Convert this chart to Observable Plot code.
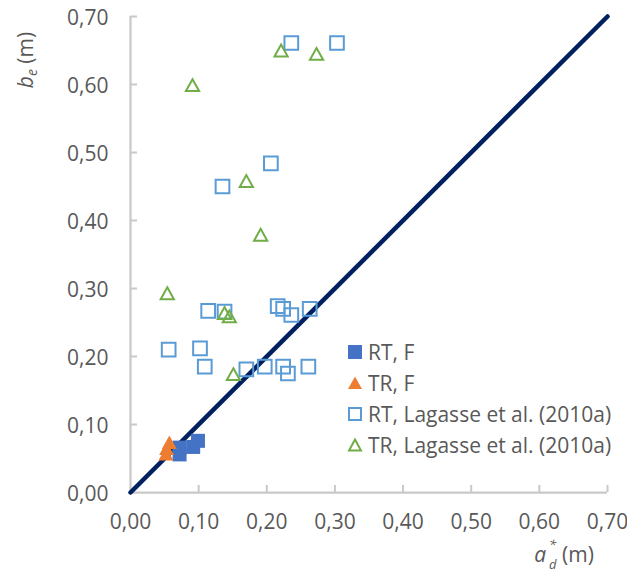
<!DOCTYPE html>
<html>
<head>
<meta charset="utf-8">
<script src="https://cdn.jsdelivr.net/npm/d3@7"></script>
<script src="https://cdn.jsdelivr.net/npm/@observablehq/plot@0.6"></script>
<style>
  html, body { margin: 0; padding: 0; background: #fff; }
  #wrap { position: relative; width: 627px; height: 571px; font-family: "Open Sans", sans-serif; color: #595959; }
  #wrap svg { display: block; }
  .lab { position: absolute; font-size: 21px; color: #595959; white-space: nowrap; line-height: 1; }
  #ylab { left: 27px; top: 60px; transform: translate(-50%, -50%) rotate(-90deg); }
  #xlab { left: 564px; top: 554px; transform: translate(-50%, -50%); }
  .ss { display: inline-block; position: relative; width: 11px; height: 10px; margin-left: 2px; margin-right: 3px; }
  .ss .sup, .ss .sub { position: absolute; left: 1px; font-size: 13px; font-style: italic; line-height: 1; }
  .ss .sup { top: -14px; }
  .ss .sub { top: 6px; }
  #legend { position: absolute; left: 347px; top: 336px; font-size: 21px; color: #595959; }
  .row { display: flex; align-items: center; height: 31.2px; }
  .row svg { margin-right: 5px; }
</style>
</head>
<body>
<div id="wrap"></div>
<script>
// ---- Data ----
const rtF_x = [0.072, 0.072, 0.092, 0.099];
const rtF_y = [0.066, 0.056, 0.067, 0.076];

const trF_x = [0.057, 0.053, 0.052];
const trF_y = [0.074, 0.065, 0.057];

const rtL_x = [0.236, 0.303, 0.206, 0.135, 0.114, 0.138, 0.056, 0.102, 0.109, 0.170, 0.197, 0.224, 0.231, 0.261, 0.216, 0.224, 0.236, 0.263];
const rtL_y = [0.661, 0.661, 0.484, 0.450, 0.267, 0.266, 0.210, 0.212, 0.185, 0.181, 0.185, 0.185, 0.175, 0.185, 0.274, 0.270, 0.261, 0.270];

const trL_x = [0.221, 0.273, 0.091, 0.170, 0.191, 0.054, 0.138, 0.145, 0.151];
const trL_y = [0.650, 0.645, 0.599, 0.458, 0.379, 0.293, 0.264, 0.259, 0.174];

const lineX = [0, 0.7];
const lineY = [0, 0.7];

const ticks = [0, 0.1, 0.2, 0.3, 0.4, 0.5, 0.6, 0.7];

const seriesNames = ["RT, F", "TR, F", "RT, Lagasse et al. (2010a)", "TR, Lagasse et al. (2010a)"];

// ---- Build ----
const zip = (xs, ys) => xs.map((x, i) => ({x, y: ys[i]}));
const fmt = d => d.toFixed(2).replace(".", ",");

const sq = {draw(ctx, size) { const s = Math.sqrt(size / Math.PI); ctx.moveTo(-s, -s); ctx.lineTo(s, -s); ctx.lineTo(s, s); ctx.lineTo(-s, s); ctx.closePath(); }};
const tri = {draw(ctx, size) { const s = Math.sqrt(size / Math.PI); const h = s * 0.9; ctx.moveTo(0, -h); ctx.lineTo(s, h); ctx.lineTo(-s, h); ctx.closePath(); }};

const W = 627, H = 571, mL = 130, mR = 20, mT = 16, mB = 79;
const fw = W - mL - mR, fh = H - mT - mB;
const axisColor = "#c9c9c9";

const chart = Plot.plot({
  width: W, height: H,
  marginLeft: mL, marginRight: mR, marginTop: mT, marginBottom: mB,
  style: {fontFamily: "Open Sans, sans-serif", fontSize: "21px", color: "#595959", background: "#fff"},
  x: {domain: [0, 0.7], ticks: ticks, tickFormat: fmt},
  y: {domain: [0, 0.7], ticks: ticks, tickFormat: fmt},
  marks: [
    Plot.axisX({ticks, tickFormat: fmt, tickSize: 0, tickPadding: 22, label: null, fill: "#595959", fontSize: 21}),
    Plot.axisY({ticks, tickFormat: fmt, tickSize: 0, tickPadding: 22, label: null, fill: "#595959", fontSize: 21, dy: 2}),
    Plot.tickX(ticks.slice(1), {x: d => d, insetTop: fh - 7, stroke: axisColor, strokeWidth: 2}),
    Plot.tickY(ticks.slice(1), {y: d => d, insetRight: fw - 7, stroke: axisColor, strokeWidth: 2}),
    Plot.ruleX([0], {stroke: axisColor, strokeWidth: 2.25}),
    Plot.ruleY([0], {stroke: axisColor, strokeWidth: 2.25}),
    Plot.line(zip(lineX, lineY), {x: "x", y: "y", stroke: "#002060", strokeWidth: 4.5}),
    Plot.dot(zip(rtL_x, rtL_y), {x: "x", y: "y", symbol: sq, r: 6.85, fill: "none", stroke: "#5B9BD5", strokeWidth: 2}),
    Plot.dot(zip(trL_x, trL_y), {x: "x", y: "y", symbol: tri, r: 6.6, fill: "none", stroke: "#70AD47", strokeWidth: 2}),
    Plot.dot(zip(rtF_x, rtF_y), {x: "x", y: "y", symbol: sq, r: 7, fill: "#4472C4", stroke: "none"}),
    Plot.dot(zip(trF_x, trF_y), {x: "x", y: "y", symbol: tri, r: 7.5, fill: "#ED7D31", stroke: "none"})
  ]
});

const wrap = document.getElementById("wrap");
wrap.appendChild(chart);

// axis titles
const yl = document.createElement("div");
yl.className = "lab"; yl.id = "ylab";
yl.innerHTML = '<i>b</i><sub style="font-size:14px;font-style:italic;vertical-align:-4px;line-height:1">e</sub> (m)';
wrap.appendChild(yl);

const xl = document.createElement("div");
xl.className = "lab"; xl.id = "xlab";
xl.innerHTML = '<i>a</i><span class="ss"><span class="sup">*</span><span class="sub">d</span></span>(m)';
wrap.appendChild(xl);

// legend
const legendSyms = [
  '<svg width="16" height="16"><rect x="1" y="1" width="14" height="14" fill="#4472C4"/></svg>',
  '<svg width="16" height="16"><path d="M8,1.5 L15,14 L1,14 Z" fill="#ED7D31"/></svg>',
  '<svg width="16" height="16"><rect x="2" y="2" width="12" height="12" fill="none" stroke="#5B9BD5" stroke-width="2"/></svg>',
  '<svg width="16" height="16"><path d="M8,2.5 L14,13.5 L2,13.5 Z" fill="none" stroke="#70AD47" stroke-width="2"/></svg>'
];
const lg = document.createElement("div");
lg.id = "legend";
seriesNames.forEach((n, i) => {
  const r = document.createElement("div");
  r.className = "row";
  r.innerHTML = legendSyms[i] + '<span>' + n + '</span>';
  lg.appendChild(r);
});
wrap.appendChild(lg);
</script>
</body>
</html>
